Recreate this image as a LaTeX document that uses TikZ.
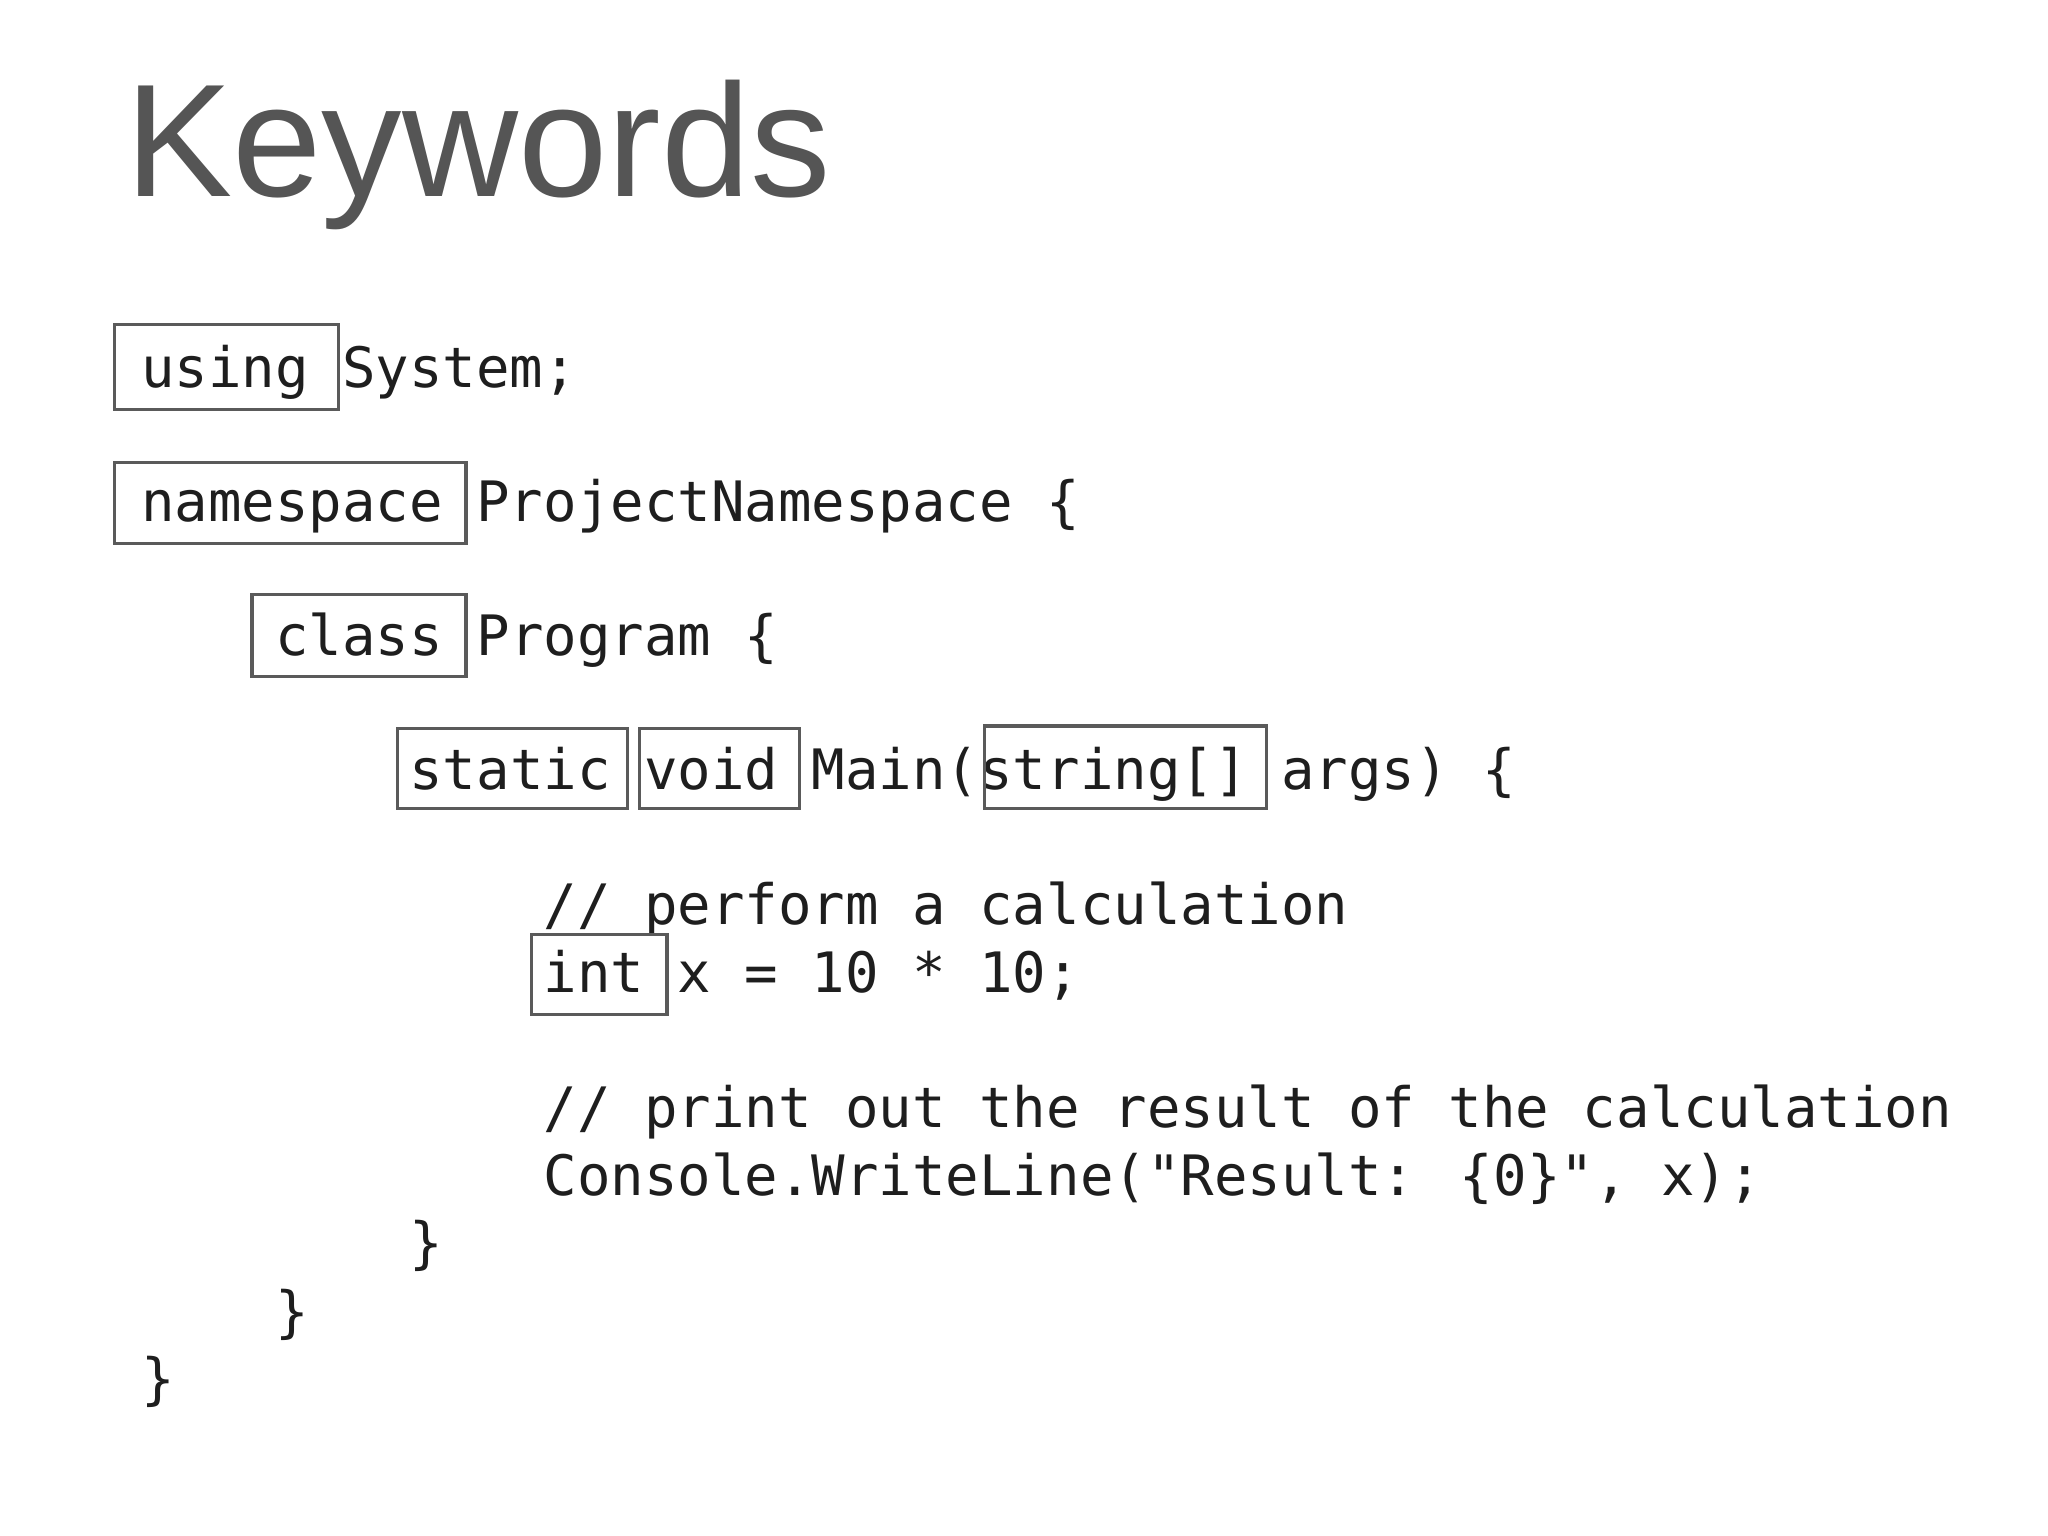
\documentclass[tikz,border=0pt]{standalone}
\usepackage{fontspec}
\setmainfont{Liberation Sans}
\newfontfamily\codefont{DejaVu Sans Mono}
\definecolor{titlegray}{HTML}{555555}
\definecolor{codeink}{HTML}{1E1E1E}
\definecolor{boxgray}{HTML}{5A5A5A}
\begin{document}
\begin{tikzpicture}[x=0.01313cm,y=-0.01313cm,
  code/.style={anchor=base west,inner sep=0pt,text=codeink,font=\codefont\fontsize{15.84pt}{18pt}\selectfont},
  kw/.style={draw=boxgray,line width=0.9pt}]
\useasboundingbox[fill=white] (0,0) rectangle (1560,1170);
\node[anchor=base west,inner sep=0pt,text=titlegray,font=\fontsize{45.7pt}{50pt}\selectfont] (title) at (95,150) {Keywords};
\node[code] (l1) at (107,295) {using System;};
\node[code] (l2) at (107,397) {namespace ProjectNamespace \{};
\node[code] (l3) at (107,499) {\ \ \ \ class Program \{};
\node[code] (l4) at (107,601) {\ \ \ \ \ \ \ \ static void Main(string[] args) \{};
\node[code] (l5) at (107,704) {\ \ \ \ \ \ \ \ \ \ \ \ // perform a calculation};
\node[code] (l6) at (107,756) {\ \ \ \ \ \ \ \ \ \ \ \ int x = 10 * 10;};
\node[code] (l7) at (107,859) {\ \ \ \ \ \ \ \ \ \ \ \ // print out the result of the calculation};
\node[code] (l8) at (107,911) {\ \ \ \ \ \ \ \ \ \ \ \ Console.WriteLine("Result: \{0\}", x);};
\node[code] (l9) at (107,962) {\ \ \ \ \ \ \ \ \}};
\node[code] (l10) at (107,1014) {\ \ \ \ \}};
\node[code] (l11) at (107,1065) {\}};
\draw[kw] (87,247) rectangle (258,312);
\draw[kw] (87,352) rectangle (355,414);
\draw[kw] (192,453) rectangle (355,515);
\draw[kw] (303,555) rectangle (478,616);
\draw[kw] (487,555) rectangle (609,616);
\draw[kw] (750,553) rectangle (965,616);
\draw[kw] (405,712) rectangle (508,773);
\end{tikzpicture}
\end{document}
